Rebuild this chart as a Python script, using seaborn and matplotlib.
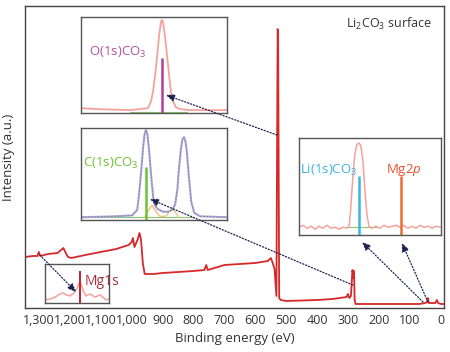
import matplotlib
matplotlib.use("Agg")
import matplotlib.pyplot as plt
import seaborn as sns

sns.set_style("white")
plt.rcParams["font.family"] = ["Open Sans", "DejaVu Sans"]
plt.rcParams["mathtext.fontset"] = "custom"
plt.rcParams["mathtext.rm"] = "Open Sans"
plt.rcParams["mathtext.it"] = "Open Sans:italic"
plt.rcParams["mathtext.default"] = "regular"

# survey spectrum (binding energy, intensity a.u.)
survey_ev = [1345, 1320, 1305, 1300, 1296, 1270, 1240, 1228, 1221, 1213, 1206, 1195,
             1150, 1100, 1050, 1010, 1000, 996, 991, 980, 975, 970, 964, 958, 930,
             900, 850, 800, 765, 759, 754, 700, 650, 600, 560, 550, 545, 538, 532,
             528, 526.5, 523, 518, 500, 450, 400, 350, 305, 301, 296, 291, 286, 283, 281,
             279, 276, 250, 200, 150, 100, 70, 50, 45, 42, 39, 30, 18, 13, 9, 0, -10]
survey_int = [51, 52, 52, 56, 52, 54, 55, 58, 60, 55, 51, 50,
              53, 56, 59, 63, 66, 70, 61, 69, 75, 69, 45, 34, 34,
              35, 36, 37, 38, 43, 38, 43, 44, 45, 47, 50, 46, 39, 12,
              279, 276, 10, 8, 7, 7.5, 8, 9, 11, 14, 10, 12, 38, 30, 37,
              8, 4, 4, 4, 4, 4, 4, 5, 6, 10, 5, 5, 5, 8, 5, 4, 4]

# O(1s) inset
o1s_ev = [538.0, 536.2, 533.3, 531.58, 531.29, 531.10, 530.91, 530.71, 530.52, 530.33,
          530.23, 530.14, 529.95, 529.75, 529.56, 529.37, 529.18, 528.89, 528.51, 527.5,
          524.0]
o1s_int = [0.05, 0.04, 0.03, 0.05, 0.12, 0.22, 0.38, 0.58, 0.80, 0.95,
           0.97, 0.95, 0.80, 0.60, 0.40, 0.22, 0.12, 0.06, 0.04, 0.03,
           0.03]
o1s_stick = (530.2, 0.57)

# C(1s) inset: envelope and small fit components
c1s_ev = [299.0, 294.3, 292.0, 291.3, 291.1, 290.8, 290.5, 290.3, 290.1, 289.9, 289.7,
          289.4, 289.1, 288.9, 288.5, 287.8, 287.1, 286.5, 286.1, 285.8, 285.6, 285.3,
          285.1, 284.9, 284.7, 284.5, 284.2, 283.9, 283.5, 282.7, 279.0]
c1s_int = [0.03, 0.04, 0.05, 0.11, 0.24, 0.49, 0.78, 0.93, 0.98, 0.93, 0.78,
           0.49, 0.24, 0.16, 0.12, 0.09, 0.09, 0.11, 0.17, 0.33, 0.54, 0.78,
           0.88, 0.90, 0.86, 0.74, 0.45, 0.20, 0.08, 0.04, 0.03]
c1s_comp_ev = [290.3, 289.8, 289.3, 288.8, 288.2, 287.4, 286.9, 286.5, 286.1, 285.6]
c1s_comp_int = [0.03, 0.10, 0.16, 0.10, 0.04, 0.04, 0.09, 0.12, 0.09, 0.03]
c1s_stick = (290.1, 0.58)

# Li(1s) / Mg2p inset
li_ev = [64.0, 63.4, 62.8, 62.2, 61.6, 61.1, 60.5, 59.9, 59.3, 58.7, 58.1, 57.5, 56.9,
         56.6, 56.4, 56.1, 55.8, 55.5, 55.2, 54.9, 54.6, 54.3, 54.0, 53.7, 53.3, 52.7,
         52.1, 51.5, 50.9, 50.3, 49.7, 49.1, 48.6, 48.0, 47.4, 46.8, 46.2, 45.6, 45.0,
         44.4, 43.9, 43.1]
li_int = [0.08, 0.10, 0.07, 0.09, 0.06, 0.09, 0.07, 0.10, 0.07, 0.08, 0.06, 0.08, 0.07,
          0.10, 0.26, 0.57, 0.82, 0.93, 0.95, 0.92, 0.77, 0.46, 0.21, 0.09, 0.07, 0.09,
          0.07, 0.10, 0.08, 0.09, 0.10, 0.08, 0.10, 0.07, 0.09, 0.07, 0.10, 0.08, 0.09,
          0.07, 0.09, 0.08]
li_stick = (55.2, 0.61)
mg2p_stick = (49.0, 0.61)

# Mg1s inset
mg1s_ev = [1312.0, 1310.75, 1309.5, 1308.25, 1307.5, 1306.75, 1305.75, 1304.75, 1304.0,
           1303.5, 1303.0, 1302.5, 1301.75, 1300.75, 1299.5, 1298.25, 1296.75, 1296.0]
mg1s_int = [0.08, 0.10, 0.15, 0.23, 0.26, 0.21, 0.18, 0.26, 0.38,
            0.51, 0.49, 0.33, 0.18, 0.23, 0.15, 0.21, 0.08, 0.10]
mg1s_stick = (1303.25, 0.82)

ticks = list(range(0, 1301, 100))
tick_labels = [f"{t:,}" for t in ticks]

W, H = 450, 352
fig = plt.figure(figsize=(W / 100, H / 100), dpi=100)


def box(x0, y0, x1, y1):
    return [x0 / W, (H - y1) / H, (x1 - x0) / W, (y1 - y0) / H]


main_box = box(25, 6, 444, 308)
ax = fig.add_axes(main_box)
sns.lineplot(x=survey_ev, y=survey_int, ax=ax, color="#d7282a", lw=1.3)
ax.set_xlim(1345, -10)
ax.set_ylim(0, 302)
ax.set_xticks(ticks)
ax.set_xticklabels(tick_labels, fontsize=9, color="#333333")
ax.set_yticks([])
ax.tick_params(axis="x", direction="in", length=3, width=0.8, color="#444444", pad=4)
for s in ax.spines.values():
    s.set_color("#444444")
    s.set_linewidth(1)
ax.set_xlabel("Binding energy (eV)", fontsize=9.5, color="#333333", labelpad=4)
ax.set_ylabel("Intensity (a.u.)", fontsize=9.5, color="#333333", labelpad=7)
ax.text(0.97, 0.94, "Li$_2$CO$_3$ surface", transform=ax.transAxes, ha="right",
        va="center", fontsize=9, color="#333333")


def inset(x0, y0, x1, y1, xlim):
    a = fig.add_axes(box(x0, y0, x1, y1), zorder=2)
    a.set_xlim(*xlim)
    a.set_ylim(0, 1)
    a.set_xticks([])
    a.set_yticks([])
    a.set_facecolor("white")
    for s in a.spines.values():
        s.set_color("#555555")
        s.set_linewidth(1)
    return a


# O(1s)
ax_o = inset(81, 17, 227, 113, (538, 524))
ax_o.plot([533.3, 527.8], [0.01, 0.01], color="#8cc870", lw=0.8)
sns.lineplot(x=o1s_ev, y=o1s_int, ax=ax_o, color="#f5a29c", lw=1.3)
ax_o.vlines(o1s_stick[0], 0, o1s_stick[1], color="#b0409c", lw=1.8)
ax_o.text(0.055, 0.635, "O(1s)CO$_3$", transform=ax_o.transAxes, fontsize=9.5,
          color="#b4509f", va="center")

# C(1s)
ax_c = inset(81, 128, 227, 220, (299, 279))
ax_c.plot([299, 283.5], [0.03, 0.03], color="#8cc870", lw=0.8)
sns.lineplot(x=c1s_comp_ev, y=c1s_comp_int, ax=ax_c, color="#f2c27a", lw=1)
sns.lineplot(x=c1s_ev, y=c1s_int, ax=ax_c, color="#aaa8dc", lw=1.5)
ax_c.plot(c1s_ev, c1s_int, color="#8a7f90", lw=0.6, ls=(0, (2, 2)))
ax_c.vlines(c1s_stick[0], 0, c1s_stick[1], color="#6cc23a", lw=1.8)
ax_c.text(0.014, 0.62, "C(1s)CO$_3$", transform=ax_c.transAxes, fontsize=9.5,
          color="#6cc23a", va="center")

# Li(1s) / Mg2p
ax_l = inset(299, 138, 441, 235, (64, 43.1))
ax_l.plot([56.9, 52.5], [0.08, 0.08], color="#8cc870", lw=0.8)
sns.lineplot(x=li_ev, y=li_int, ax=ax_l, color="#f5a29c", lw=1.1)
ax_l.vlines(li_stick[0], 0, li_stick[1], color="#3fb2e4", lw=1.8)
ax_l.vlines(mg2p_stick[0], 0, mg2p_stick[1], color="#ef6a32", lw=1.8)
ax_l.text(0.41, 0.67, "Li(1s)CO$_3$", transform=ax_l.transAxes, fontsize=9.5,
          color="#3fb2e4", va="center", ha="right")
ax_l.text(0.61, 0.67, r"Mg2$\mathit{p}$", transform=ax_l.transAxes, fontsize=9.5,
          color="#e8502e", va="center")

# Mg1s
ax_m = inset(45, 264, 109, 303, (1312, 1296))
sns.lineplot(x=mg1s_ev, y=mg1s_int, ax=ax_m, color="#f5a29c", lw=1.1)
ax_m.vlines(mg1s_stick[0], 0, mg1s_stick[1], color="#c42034", lw=1.4)
ax_m.text(0.62, 0.56, "Mg1s", transform=ax_m.transAxes, fontsize=10,
          color="#a8303e", va="center", clip_on=False)

# dotted arrows drawn over everything
ax_arrow = fig.add_axes(main_box, zorder=5)
ax_arrow.set_xlim(1345, -10)
ax_arrow.set_ylim(0, 302)
ax_arrow.axis("off")
ax_arrow.patch.set_alpha(0)
arrows = [((530, 173), (889, 213)), ((285, 23), (941, 109)), ((1297, 53), (1180, 16)),
          ((58, 6), (255, 66)), ((42, 6), (126, 65))]
for tail, head in arrows:
    ax_arrow.annotate("", xy=head, xytext=tail,
                      arrowprops=dict(arrowstyle="-|>,head_length=0.5,head_width=0.22",
                                      color="#1c2250", lw=0.9, linestyle=(0, (1, 1.5)),
                                      shrinkA=0, shrinkB=0))

fig.savefig("out.png", dpi=100)
